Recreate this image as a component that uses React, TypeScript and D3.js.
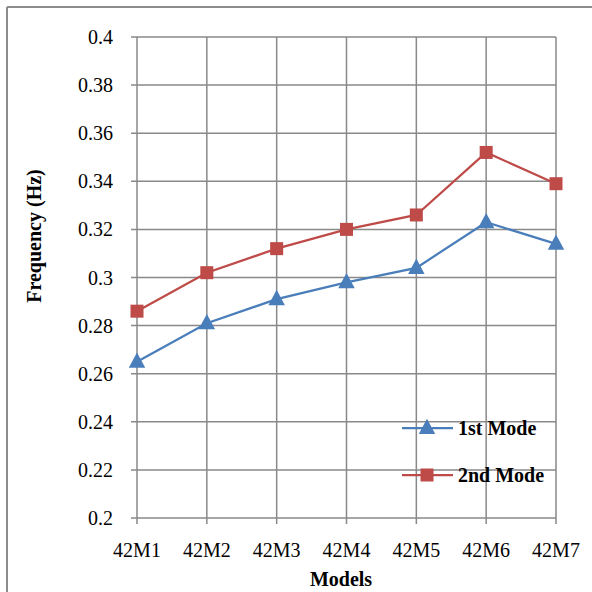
import React from "react";
import * as d3 from "d3";

const categories = ["42M1", "42M2", "42M3", "42M4", "42M5", "42M6", "42M7"];
const mode1 = [0.265, 0.281, 0.291, 0.298, 0.304, 0.323, 0.314];
const mode2 = [0.286, 0.302, 0.312, 0.32, 0.326, 0.352, 0.339];
const yTicks = [0.2, 0.22, 0.24, 0.26, 0.28, 0.3, 0.32, 0.34, 0.36, 0.38, 0.4];
const seriesNames = ["1st Mode", "2nd Mode"];

const BLUE = "#4A7EBB";
const RED = "#BE4B48";
const GRID = "#898989";
const FONT = "'Liberation Serif', 'Times New Roman', serif";

export default function App() {
  const left = 137, right = 556, top = 37, bottom = 518;
  const x = d3.scalePoint<string>().domain(categories).range([left, right]).padding(0);
  const y = d3.scaleLinear().domain([0.2, 0.4]).range([bottom, top]);
  const line = d3
    .line<number>()
    .x((_, i) => x(categories[i]) as number)
    .y((d) => y(d));

  const tri = (cx: number, cy: number, s: number) =>
    `M${cx},${cy - s * 0.62} L${cx + s * 0.55},${cy + s * 0.4} L${cx - s * 0.55},${cy + s * 0.4} Z`;
  const sq = 13;

  return (
    <svg
      width={592}
      height={592}
      style={{ position: "absolute", left: 0, top: 0, background: "#fff" }}
      fontFamily={FONT}
    >
      <rect x={0} y={0} width={592} height={592} fill="#fff" />
      {/* outer chart border */}
      <line x1={7} y1={7} x2={592} y2={7} stroke="#8c8c8c" strokeWidth={2} />
      <line x1={7} y1={7} x2={7} y2={592} stroke="#8c8c8c" strokeWidth={2} />

      {/* horizontal gridlines + ticks */}
      {yTicks.map((t) => (
        <g key={t}>
          <line x1={left - 6} x2={right} y1={y(t)} y2={y(t)} stroke={GRID} strokeWidth={1.5} />
          <text x={113} y={y(t)} dy="0.35em" textAnchor="end" fontSize={20} fill="#000">
            {String(+t.toFixed(2))}
          </text>
        </g>
      ))}
      {/* vertical gridlines + ticks */}
      {categories.map((c) => (
        <g key={c}>
          <line x1={x(c)} x2={x(c)} y1={top} y2={bottom + 6} stroke={GRID} strokeWidth={1.5} />
          <text x={x(c)} y={557} textAnchor="middle" fontSize={20} fill="#000">
            {c}
          </text>
        </g>
      ))}

      {/* series */}
      <path d={line(mode1) || ""} fill="none" stroke={BLUE} strokeWidth={2.25} />
      <path d={line(mode2) || ""} fill="none" stroke={RED} strokeWidth={2.25} />
      {mode1.map((v, i) => (
        <path key={"a" + i} d={tri(x(categories[i]) as number, y(v), 15)} fill={BLUE} />
      ))}
      {mode2.map((v, i) => (
        <rect
          key={"b" + i}
          x={(x(categories[i]) as number) - sq / 2}
          y={y(v) - sq / 2}
          width={sq}
          height={sq}
          fill={RED}
        />
      ))}

      {/* axis titles */}
      <text x={341} y={586} textAnchor="middle" fontSize={20} fontWeight="bold" fill="#000">
        Models
      </text>
      <text
        transform={`translate(41, 236) rotate(-90)`}
        textAnchor="middle"
        fontSize={20}
        fontWeight="bold"
        fill="#000"
      >
        Frequency (Hz)
      </text>

      {/* legend */}
      {seriesNames.map((n, i) => {
        const ly = 428 + i * 47;
        const color = i === 0 ? BLUE : RED;
        return (
          <g key={n}>
            <line x1={402} x2={453} y1={ly} y2={ly} stroke={color} strokeWidth={2.25} />
            {i === 0 ? (
              <path d={tri(427, ly, 15)} fill={color} />
            ) : (
              <rect x={427 - sq / 2} y={ly - sq / 2} width={sq} height={sq} fill={color} />
            )}
            <text x={458} y={ly + 7} fontSize={20} fontWeight="bold" fill="#000">
              {n}
            </text>
          </g>
        );
      })}
    </svg>
  );
}
